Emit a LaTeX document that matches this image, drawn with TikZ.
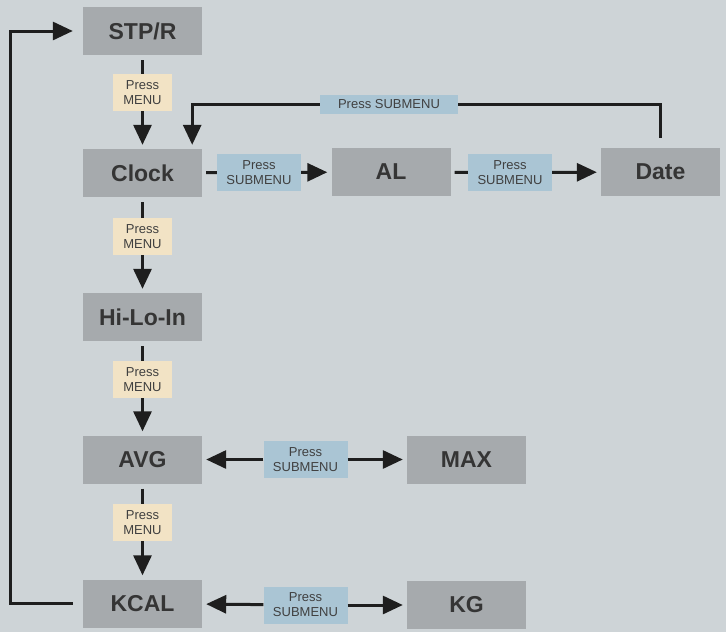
\documentclass[tikz,border=0pt]{standalone}
\usepackage{fontspec}
\setmainfont{Liberation Sans}
\usepackage{xcolor}
\usetikzlibrary{arrows.meta,positioning,calc}
\definecolor{bgcol}{HTML}{CED4D7}
\definecolor{boxcol}{HTML}{A6AAAD}
\definecolor{menucol}{HTML}{F2E3C5}
\definecolor{subcol}{HTML}{AAC5D4}
\definecolor{inkcol}{HTML}{1E1E1E}

\tikzset{
  state/.style={fill=boxcol,minimum width=119pt,minimum height=48pt,inner sep=0pt,font=\fontsize{23}{25}\selectfont\bfseries,text=inkcol!90},
  menulbl/.style={fill=menucol,minimum width=59pt,minimum height=37pt,inner sep=0pt,align=center,font=\fontsize{13}{15}\selectfont,text=inkcol!85},
  sublbl/.style={menulbl,fill=subcol,minimum width=84pt},
  wire/.style={draw=inkcol,line width=3pt},
  go/.style={wire,-{Triangle[length=20pt,width=18pt]}},
  gapin/.style={shorten <=5pt},
  gapout/.style={shorten >=4pt},
}

\begin{document}
\begin{tikzpicture}[x=1pt,y=-1pt]
\fill[bgcol] (0,0) rectangle (726,632);
\useasboundingbox (0,0) rectangle (726,632);
% main column
\node[state] (stp) at (142.5,31) {STP/R};
\node[state] (clock) at (142.5,173) {Clock};
\node[state] (hilo) at (142.5,317) {Hi-Lo-In};
\node[state] (avg) at (142.5,459.5) {AVG};
\node[state] (kcal) at (142.5,603.5) {KCAL};
% submenus
\node[state] (al) at (391,172) {AL};
\node[state] (date) at (660.5,172) {Date};
\node[state] (max) at (466.5,459.5) {MAX};
\node[state] (kg) at (466.5,605) {KG};
% labels
\node[menulbl] (menu1) at (142.5,92.5) {Press\\MENU};
\node[menulbl] (menu2) at (142.5,236.5) {Press\\MENU};
\node[menulbl] (menu3) at (142.5,379.5) {Press\\MENU};
\node[menulbl] (menu4) at (142.5,522.5) {Press\\MENU};
\node[sublbl] (sub1) at (259,172.5) {Press\\SUBMENU};
\node[sublbl] (sub2) at (510,172.5) {Press\\SUBMENU};
\node[sublbl] (sub3) at (305.5,459.5) {Press\\SUBMENU};
\node[sublbl] (sub4) at (305.5,605) {Press\\SUBMENU};
\node[sublbl,minimum width=138pt,minimum height=19pt] (subtop) at (389,104.5) {Press SUBMENU};
\coordinate (loopcorner) at (10,603.5);

\draw[wire,gapin] (stp) -- (menu1);
\draw[go,gapout] (menu1) -- (clock);
\draw[wire,gapin] (clock) -- (menu2);
\draw[go,gapout] (menu2) -- (hilo);
\draw[wire,gapin] (hilo) -- (menu3);
\draw[go,gapout] (menu3) -- (avg);
\draw[wire,gapin] (avg) -- (menu4);
\draw[go,gapout] (menu4) -- (kcal);

\draw[wire,shorten <=4pt] (clock) -- (sub1);
\draw[go,gapout] (sub1) -- (al);
\draw[wire,shorten <=4pt] (al) -- (sub2);
\draw[go,gapout] (sub2) -- (date);
\draw[wire] ([yshift=10pt]date.north) |- (subtop);
\draw[go] (subtop) -| ([xshift=-10pt,yshift=4pt]clock.north east);

\draw[go,gapout] (sub3) -- (avg);
\draw[go,gapout] (sub3) -- (max);
\draw[go,gapout] (sub4) -- (kcal);
\draw[go,gapout] (sub4) -- (kg);

\draw[go] ([xshift=-10pt]kcal.west) -- (loopcorner) |- ([xshift=-10pt]stp.west);
\end{tikzpicture}
\end{document}
